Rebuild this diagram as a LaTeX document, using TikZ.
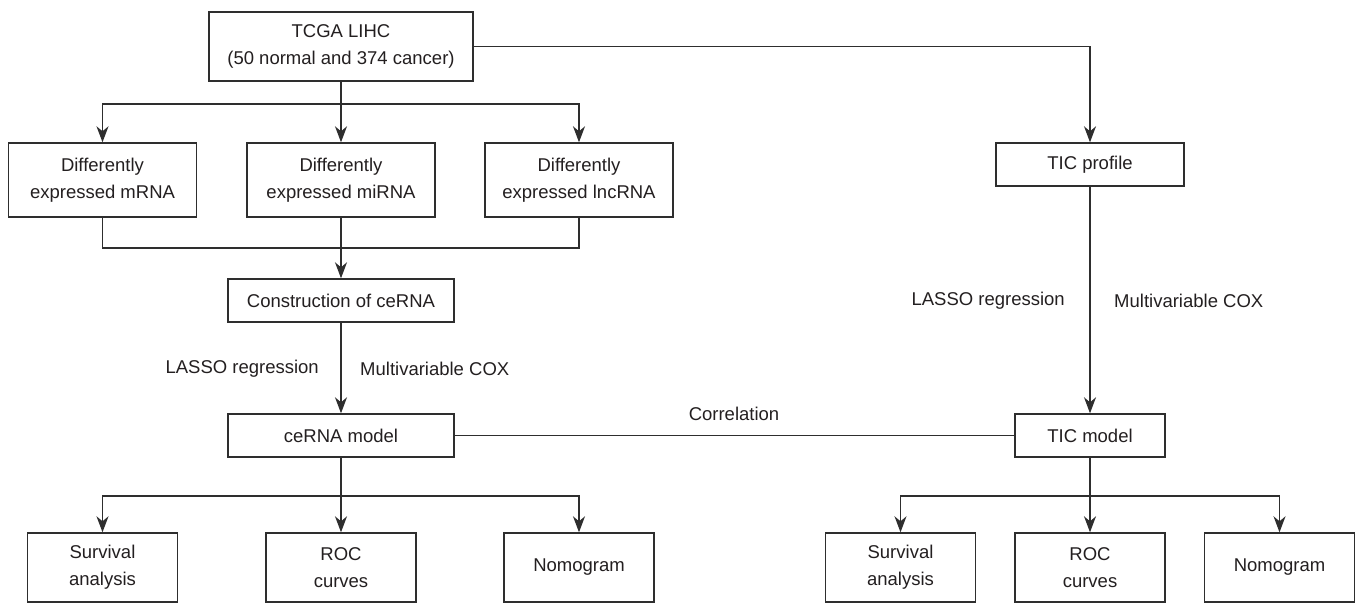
\documentclass[tikz,border=0pt]{standalone}
\usepackage{fontspec}
\setmainfont{Liberation Sans}
\usetikzlibrary{arrows.meta}
\definecolor{ln}{HTML}{2E2E2E}
\definecolor{tx}{HTML}{231F20}
\begin{document}
\begin{tikzpicture}[x=1pt,y=-1pt,
  box/.style={draw=ln, line width=1.4pt, fill=white, text=tx, align=center, inner sep=0pt, font=\fontsize{18.5}{27}\selectfont},
  dbox/.style={box, minimum width=188pt, minimum height=74pt},
  sbox/.style={box, minimum width=150pt, minimum height=69pt},
  conn/.style={draw=ln, line width=1.4pt},
  arr/.style={conn, -{Stealth[length=16pt,width=12pt,inset=5pt]}},
  lbl/.style={text=tx, font=\fontsize{18.5}{27}\selectfont, inner sep=0pt}]
\useasboundingbox (0,0) rectangle (1356,604);

% top
\node[box, minimum width=264pt, minimum height=69pt] (tcga) at (341,46.5) {TCGA LIHC\\(50 normal and 374 cancer)};
\node[dbox] (mrna) at (102.5,180) {Differently\\expressed mRNA};
\node[dbox] (mirna) at (341,180) {Differently\\expressed miRNA};
\node[dbox] (lncrna) at (579,180) {Differently\\expressed lncRNA};
\node[box, minimum width=188pt, minimum height=43pt] (ticprof) at (1090,164.5) {TIC profile};
\node[box, minimum width=226pt, minimum height=43pt] (cons) at (341,300.5) {Construction of ceRNA};
\node[box, minimum width=226pt, minimum height=43pt] (cemodel) at (341,435.5) {ceRNA model};
\node[box, minimum width=150pt, minimum height=43pt] (ticmodel) at (1090,435.5) {TIC model};

% bottom
\node[sbox] (surv1) at (102.5,567.5) {Survival\\analysis};
\node[sbox] (roc1) at (341,567.5) {ROC\\curves};
\node[sbox] (nomo1) at (579,567.5) {Nomogram};
\node[sbox] (surv2) at (900.5,567.5) {Survival\\analysis};
\node[sbox] (roc2) at (1090,567.5) {ROC\\curves};
\node[sbox] (nomo2) at (1279.5,567.5) {Nomogram};

% labels
\node[lbl, anchor=east] (l1) at (319,369) {LASSO regression};
\node[lbl, anchor=west] (m1) at (360,369) {Multivariable COX};
\node[lbl, anchor=east] (l2) at (1065,301) {LASSO regression};
\node[lbl, anchor=west] (m2) at (1114,301) {Multivariable COX};
\node[lbl] (corr) at (734,414) {Correlation};

% connectors
\coordinate (br1) at (341,104);
\draw[arr] (tcga.south) -- (mirna.north);
\draw[arr] (br1) -| (mrna.north);
\draw[arr] (br1) -| (lncrna.north);
\draw[arr] (tcga.east) -| (ticprof.north);

\coordinate (j1) at (341,248);
\draw[conn] (mrna.south) |- (j1);
\draw[conn] (lncrna.south) |- (j1);
\draw[arr] (mirna.south) -- (cons.north);

\draw[arr] (cons.south) -- (cemodel.north);
\draw[arr] (ticprof.south) -- (ticmodel.north);
\draw[conn] (cemodel.east) -- (ticmodel.west);

\coordinate (b1) at (341,496);
\draw[arr] (cemodel.south) -- (roc1.north);
\draw[arr] (b1) -| (surv1.north);
\draw[arr] (b1) -| (nomo1.north);

\coordinate (b2) at (1090,496);
\draw[arr] (ticmodel.south) -- (roc2.north);
\draw[arr] (b2) -| (surv2.north);
\draw[arr] (b2) -| (nomo2.north);
\end{tikzpicture}
\end{document}
